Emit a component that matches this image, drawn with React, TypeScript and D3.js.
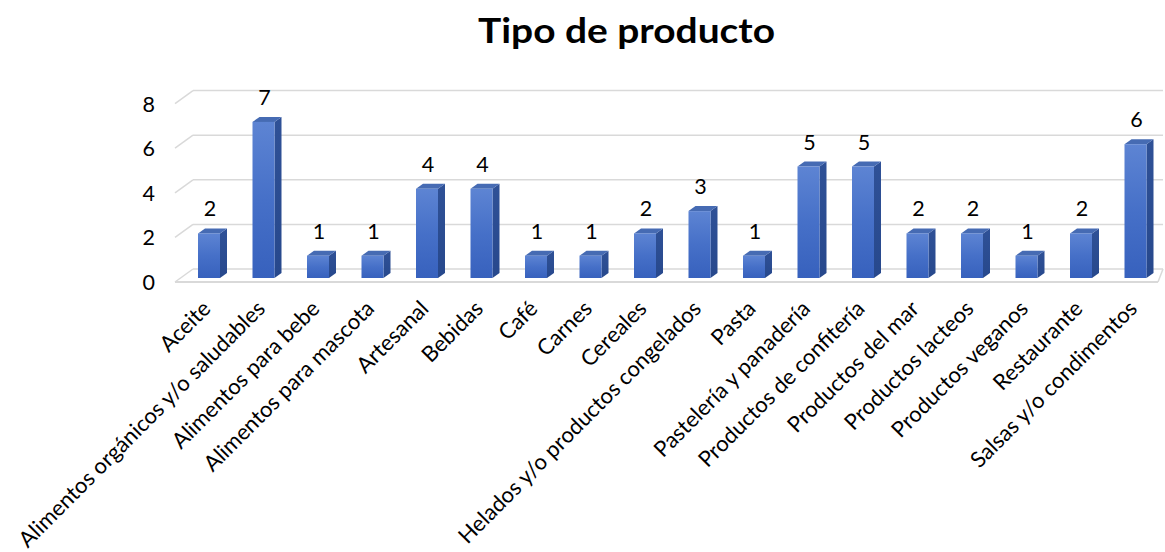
import React from "react";
import * as d3 from "d3";

const categories = [
  "Aceite",
  "Alimentos orgánicos y/o saludables",
  "Alimentos para bebe",
  "Alimentos para mascota",
  "Artesanal",
  "Bebidas",
  "Café",
  "Carnes",
  "Cereales",
  "Helados y/o productos congelados",
  "Pasta",
  "Pastelería y panadería",
  "Productos de confitería",
  "Productos del mar",
  "Productos lacteos",
  "Productos veganos",
  "Restaurante",
  "Salsas y/o condimentos",
];
const values = [2, 7, 1, 1, 4, 4, 1, 1, 2, 3, 1, 5, 5, 2, 2, 1, 2, 6];
const yTicks = [0, 2, 4, 6, 8];
const title = "Tipo de producto";

const W = 1165;
const H = 552;
const FONT = "Lato, 'Open Sans', sans-serif";

export default function App() {
  const x = d3.scalePoint<string>().domain(categories).range([209, 1135.5]);
  const y = d3.scaleLinear().domain([0, 8]).range([278, 99.6]);
  const barW = 22;
  const depthX = 7;
  const depthY = 5;
  const frontLeft = 175;
  const backLeft = 193;
  const backRight = 1163;
  const frontRight = 1158;
  const frontOff = 4;
  const backOff = -9;

  return (
    <svg
      width={W}
      height={H}
      style={{ position: "absolute", left: 0, top: 0, background: "#fff" }}
      fontFamily={FONT}
    >
      <defs>
        <linearGradient id="frontGrad" x1="0" y1="0" x2="0" y2="1">
          <stop offset="0" stopColor="#5d84d3" />
          <stop offset="0.5" stopColor="#4670c8" />
          <stop offset="1" stopColor="#3761bd" />
        </linearGradient>
        <linearGradient id="sideGrad" x1="0" y1="0" x2="0" y2="1">
          <stop offset="0" stopColor="#2f5197" />
          <stop offset="1" stopColor="#27488c" />
        </linearGradient>
      </defs>
      <text
        x={626.5}
        y={43}
        textAnchor="middle"
        fontSize={34}
        fontWeight="bold"
        fill="#000"
        textLength={297}
        lengthAdjust="spacingAndGlyphs"
      >
        {title}
      </text>

      {yTicks.map((t) => {
        const yb = y(t) + backOff;
        const yf = y(t) + frontOff;
        return (
          <g key={t}>
            <line x1={frontLeft} y1={yf} x2={backLeft} y2={yb} stroke="#d9d9d9" strokeWidth={1.5} />
            <line x1={backLeft} y1={yb} x2={backRight} y2={yb} stroke="#d9d9d9" strokeWidth={1.5} />
            <text x={155} y={yf} textAnchor="end" dominantBaseline="central" fontSize={21.5} fill="#000">
              {t}
            </text>
          </g>
        );
      })}
      <line x1={frontLeft} y1={y(0) + frontOff} x2={frontRight} y2={y(0) + frontOff} stroke="#d9d9d9" strokeWidth={2} />
      <line x1={frontRight} y1={y(0) + frontOff} x2={backRight} y2={y(0) + backOff} stroke="#d9d9d9" strokeWidth={1.5} />

      {categories.map((c, i) => {
        const cx = x(c) as number;
        const x0 = cx - barW / 2;
        const x1 = cx + barW / 2;
        const yt = y(values[i]);
        const yb = y(0);
        return (
          <g key={c}>
            <polygon
              points={`${x1},${yt} ${x1 + depthX},${yt - depthY} ${x1 + depthX},${yb - depthY} ${x1},${yb}`}
              fill="url(#sideGrad)"
            />
            <polygon
              points={`${x0},${yt} ${x0 + depthX},${yt - depthY} ${x1 + depthX},${yt - depthY} ${x1},${yt}`}
              fill="#466bb3"
            />
            <rect x={x0} y={yt} width={barW} height={yb - yt} fill="url(#frontGrad)" />
            <text x={cx + 1} y={yt - 25} textAnchor="middle" dominantBaseline="central" fontSize={21.5} fill="#000">
              {values[i]}
            </text>
          </g>
        );
      })}

      {categories.map((c) => {
        const cx = x(c) as number;
        const ax = cx + 3;
        const ay = 310;
        return (
          <text
            key={c}
            x={ax}
            y={ay}
            textAnchor="end"
            fontSize={22}
            fill="#000"
            transform={`rotate(-45 ${ax} ${ay})`}
          >
            {c}
          </text>
        );
      })}
    </svg>
  );
}
